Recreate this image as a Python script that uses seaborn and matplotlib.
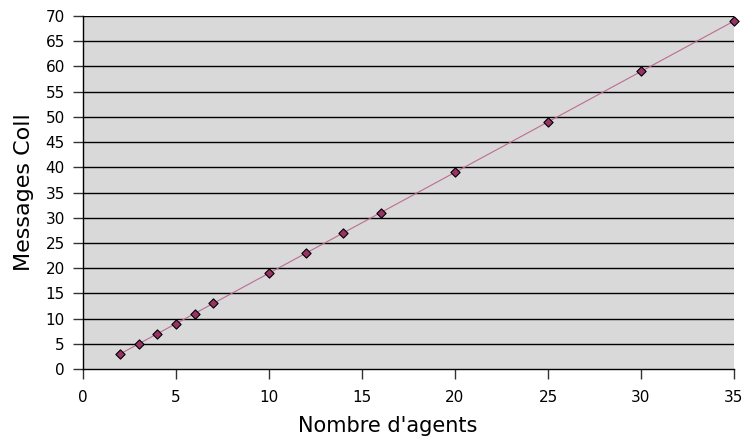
import matplotlib
matplotlib.use("Agg")
import matplotlib.pyplot as plt
import seaborn as sns
import pandas as pd

agents = [2, 3, 4, 5, 6, 7, 10, 12, 14, 16, 20, 25, 30, 35]
messages = [3, 5, 7, 9, 11, 13, 19, 23, 27, 31, 39, 49, 59, 69]
x_ticks = [0, 5, 10, 15, 20, 25, 30, 35]
y_ticks = list(range(0, 71, 5))

df = pd.DataFrame({"agents": agents, "messages": messages})

sns.set_theme(style="white")
plt.rcParams['font.family'] = ['DejaVu Sans']

fig = plt.figure(figsize=(7.45, 4.44), dpi=100)
ax = fig.add_axes([83/745, 1-369/444, (734-83)/745, (369-16)/444])
ax.set_facecolor("#d9d9d9")

for yv in y_ticks[1:]:
    ax.axhline(yv, color="black", lw=1.0, zorder=1)

sns.lineplot(data=df, x="agents", y="messages", ax=ax, color="#bc6c92", lw=0.8,
             zorder=2, estimator=None, sort=False)
sns.scatterplot(data=df, x="agents", y="messages", ax=ax, marker="D", s=22,
                color="#993366", edgecolor="black", linewidth=0.8, zorder=3, clip_on=False)

ax.set_xlim(0, 35)
ax.set_ylim(0, 70)
ax.set_xticks(x_ticks)
ax.set_yticks(y_ticks)
ax.tick_params(axis="both", direction="out", length=7, width=1, color="#333333",
               labelsize=11, labelcolor="black", pad=6, left=True, bottom=True)
ax.tick_params(axis="x", pad=8)
for s in ["top", "right"]:
    ax.spines[s].set_visible(False)
for s in ["left", "bottom"]:
    ax.spines[s].set_color("black")
    ax.spines[s].set_linewidth(1.0)

ax.set_xlabel("Nombre d'agents", fontsize=15, color="black")
ax.xaxis.set_label_coords((388-83)/651, -(416-369)/353)
ax.set_ylabel("Messages Coll", fontsize=16, color="black", labelpad=8)

fig.savefig("out.png", dpi=100)
